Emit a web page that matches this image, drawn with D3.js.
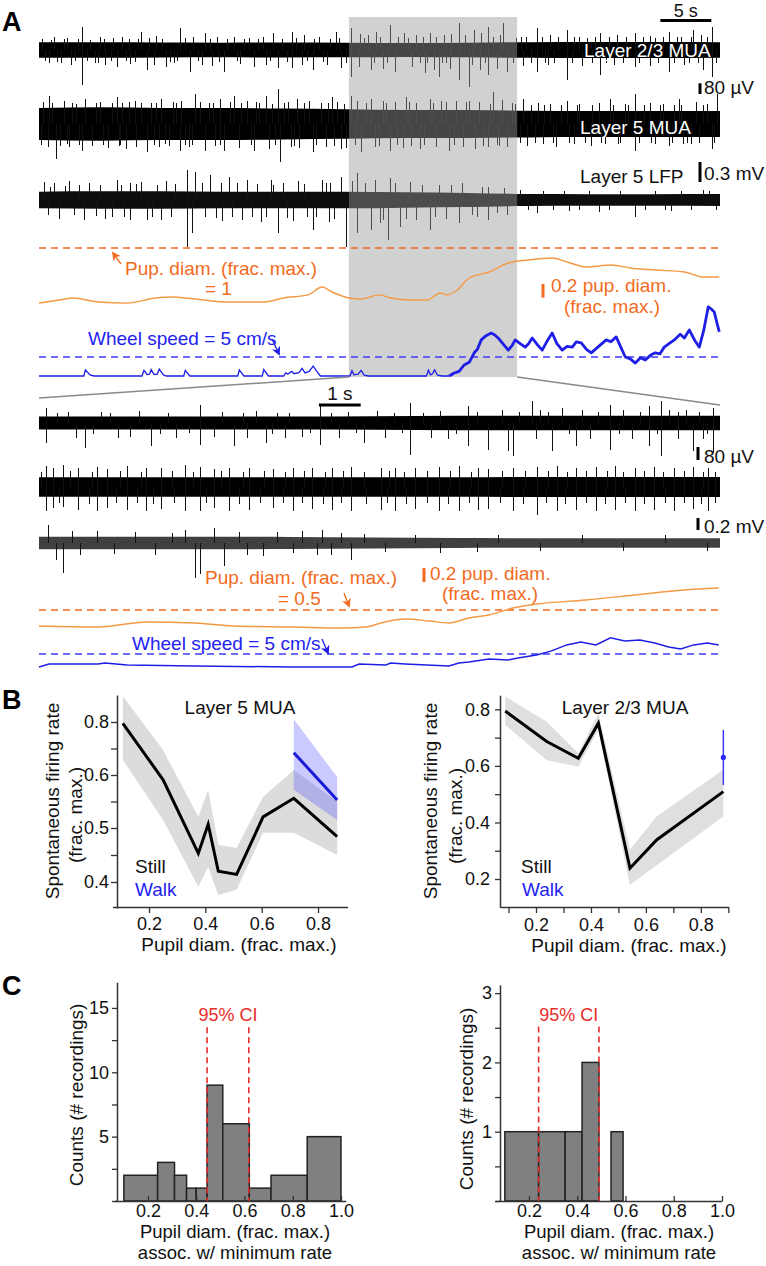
<!DOCTYPE html>
<html><head><meta charset="utf-8">
<script src="https://cdn.jsdelivr.net/npm/d3@7"></script>
<style>body{margin:0;background:#fff}svg{display:block}</style>
</head><body>
<svg id="fig" width="766" height="1266"></svg>
<script>
// ================= DATA =================
// ---- Panel A, top (whole recording, seconds) ----
const topSpanS = [0, 66.8];
const zoomWindowS = [30.4, 46.9];
const envTopT = [0, 6, 12, 18, 24, 30, 36, 42, 48, 54, 60, 66.8];
const l23TopEnv = [58, 58, 56, 55, 56, 55, 52, 55, 58, 60, 60, 58];          // µV half-width
const l5TopEnv  = [120, 125, 120, 120, 115, 110, 105, 105, 100, 98, 98, 98];
const lfpTopEnv = [125, 130, 130, 125, 125, 125, 115, 105, 90, 88, 88, 90];
const l23TopSpikes = [[1,-100],[1.5,95],[2.2,-95],[2.8,90],[3.2,-110],[4.3,175],[4.3,-262],[5.5,-100],[6.0,100],[6.5,-110],[7.7,-125],[8.2,95],[9,-105],[10.1,137],[10.6,-150],[11.3,-115],[11.5,105],[12.5,-125],[13.3,-100],[13.9,162],[14.9,-162],[15.2,95],[16,-110],[16.3,125],[17,-120],[17.5,100],[18.2,-162],[19.2,100],[19.8,-105],[20.6,90],[21.1,-125],[22,95],[22.3,-110],[23,125],[23.5,-137],[24.9,137],[24.9,-137],[25.8,-115],[26,110],[26.9,-150],[27.5,100],[28.3,-110],[29.2,137],[29.7,-137],[30.7,162],[30.7,-200],[31.4,-130],[31.5,120],[32.3,110],[32.6,-150],[33.1,137],[33.8,-140],[34.5,187],[35,-162],[35.9,125],[36.6,-130],[37,110],[37.9,-175],[38.4,125],[38.8,-150],[39.3,-200],[39.8,115],[40.4,-140],[40.5,120],[41.2,200],[41.2,-225],[42.2,-275],[42.7,150],[43.3,-150],[43.4,130],[44.1,175],[44.1,-187],[45,-140],[45.6,200],[46,-162],[47.3,100],[47.5,-120],[48.9,162],[48.9,-162],[50,-115],[50.2,110],[51.8,150],[51.8,-225],[53,100],[53.3,-120],[55.1,125],[55.1,-187],[56.5,-115],[56.7,110],[58.5,125],[58.5,-125],[60,105],[60,-120],[61.8,137],[61.8,-162],[63,100],[63.3,-110],[64.2,150],[65,110],[65.2,-150],[66.1,175],[66.1,-200],
  [0.3,80],[0.6,-85],[1.2,75],[1.8,-90],[2.5,85],[3.6,-80],[3.9,80],[4.8,-85],[5.1,75],[5.8,-95],[6.4,85],[7.1,-80],[7.3,90],[8.6,-85],[8.9,80],[9.5,-90],[9.8,85],[10.8,90],[12.1,85],[12.9,-90],[13.6,-85],[14.4,90],[15.6,-85],[16.8,85],[17.7,-90],[18.5,80],[19.5,-85],[20.2,85],[21.5,80],[22.7,-85],[23.9,85],[24.4,-90],[25.3,90],[26.3,-85],[27,85],[27.9,-90],[28.6,85],[29.5,90],[30.2,-95],[31.9,90],[32.9,-95],[33.5,95],[34.2,-100],[35.3,95],[36.2,90],[37.4,-100],[37.7,95],[38.1,-95],[39,95],[39.6,-100],[40,-95],[41.8,110],[42.5,-110],[43.8,-100],[44.6,100],[45.3,110],[46.5,-100],[46.8,90],[47.8,95],[48.3,-100],[49.4,95],[49.7,-100],[50.6,-95],[51,95],[52.3,-100],[52.5,95],[53.8,90],[54.3,-100],[54.6,95],[55.7,-100],[56,95],[57.3,-100],[57.6,95],[58.9,-95],[59.3,95],[60.5,90],[60.8,-100],[61.3,95],[62.3,-100],[62.6,95],[63.8,-95],[64,95],[64.7,-100],[65.6,95],[66.5,-95]];
const l5TopSpikes = [[1,212],[4.6,187],[7.7,200],[12,187],[15.4,225],[17.8,187],[19.2,212],[22.3,212],[23.5,262],[25.4,187],[28.8,200],[30.7,212],[32.6,187],[36,200],[38.4,187],[42.2,175],[44.6,237],[47.5,187],[51.8,175],[56.1,187],[58.5,225],[62.8,187],[66.6,225],[1.7,-262],[4.3,-200],[8.6,-187],[10.6,-212],[13.9,-200],[16.3,-200],[18.2,-200],[21.1,-200],[23.7,-287],[26.9,-212],[29.7,-187],[31.6,-212],[34.5,-200],[37.4,-187],[40.3,-200],[44.1,-175],[47.9,-162],[50.8,-175],[54.2,-162],[58.5,-200],[61.8,-162],[66.1,-187],[0.4,165],[2.5,170],[3.3,160],[6,165],[8.2,160],[9.5,175],[11,160],[13.2,165],[14,170],[16.7,160],[18.8,165],[20.5,175],[21.6,160],[24.5,165],[26.5,170],[27.7,160],[29.3,165],[31.2,170],[33.8,175],[35,165],[37,160],[39.5,170],[41,175],[43.2,165],[45.5,180],[46.4,160],[49,160],[50.2,150],[53,150],[55,155],[57.5,150],[60,160],[61.3,150],[64.5,165],[65.6,150],[0.9,-175],[3,-175],[5.2,-165],[6.8,-180],[7.9,-165],[9.6,-170],[11.8,-170],[12.8,-165],[14.8,-175],[17.3,-165],[19.7,-180],[22.6,-185],[24.8,-170],[25.6,-180],[28.2,-175],[30.2,-180],[33,-175],[35.8,-180],[36.5,-165],[39,-175],[41.6,-170],[42.8,-185],[45.2,-165],[46,-170],[49.5,-150],[52.5,-150],[55.6,-150],[56.8,-150],[60.5,-150],[63.2,-150],[64,-150],
  [0.2,-160],[1.3,160],[2.1,-165],[2.8,-150],[3.7,150],[4,-160],[5.6,155],[6.3,-155],[7.2,160],[8,-160],[8.9,165],[10.1,160],[11.3,-160],[11.5,160],[12.4,-150],[13.5,155],[14.4,-155],[15.1,-160],[15.8,165],[17.1,160],[17.8,-160],[19.9,160],[20.8,-160],[21.3,165],[22.9,150],[23.2,-160],[24.1,160],[25.1,-165],[26,155],[27.2,-160],[28.4,160],[29,-165],[30,150],[31,-160],[32.1,160],[33.4,-165],[34.1,160],[35.2,-160],[36.3,165],[37.8,-160],[38.7,160],[40,165],[40.8,-160],[41.9,165],[43.6,-165],[44.3,150],[45,-160],[46.7,150],[47.2,-140],[48.3,140],[48.7,-140],[49.6,140],[50.5,-140],[51.3,140],[52,-140],[52.8,140],[53.6,-140],[54.3,140],[55.2,-140],[56.4,140],[57,-140],[57.8,140],[58.9,-140],[59.4,140],[60.1,-140],[61,140],[62.1,-140],[62.3,140],[63,140],[63.6,-140],[64.8,-140],[65.2,140],[66.3,-140]];
const lfpTopSpikes = [[0.5,275],[7.7,300],[10.1,275],[14.6,450],[15.4,425],[16.8,375],[18.7,350],[22.8,300],[29.7,350],[31.2,400],[34.5,325],[36.4,275],[39.3,225],[44.1,200],[65.2,150],[3,280],[5,260],[12.5,280],[20.5,300],[25.5,280],[27.8,300],[33,300],[41.5,260],[1.5,250],[9,250],[19.5,260],[24,250],[28.6,260],[10.6,-300],[14.6,-700],[15.1,-500],[16.3,-250],[23.5,-500],[26.9,-450],[30.2,-700],[31.2,-500],[32.6,-450],[34.3,-600],[35.5,-400],[38.4,-450],[41.2,-350],[44.1,-300],[48.9,-200],[58.5,-250],[2,-280],[4.5,-300],[6.5,-280],[9,-300],[12,-300],[18,-320],[20,-300],[21.8,-330],[25,-320],[28.5,-330],[33.5,-350],[37,-300],[40,-280],[43,-260],[46,-220],[52,-170],[55,-180],[62,-170],
  [0.9,-220],[1.1,200],[2.6,210],[3.5,-230],[4,220],[5.6,-240],[6,220],[7.2,-250],[8.1,230],[8.4,-260],[9.6,240],[11.1,-250],[11.6,230],[13,-260],[13.4,240],[16,260],[17.4,-270],[17.9,250],[19,-260],[20.9,-250],[21.4,240],[22.3,-260],[23,220],[24.4,-270],[26,240],[26.3,-260],[27.2,-250],[28.2,250],[29,-280],[30.8,280],[32,250],[33.8,-300],[35,260],[36,-280],[37.6,230],[38.9,-260],[40.5,220],[42.5,-230],[43.5,200],[45,-200],[45.7,180],[47.2,150],[48,-150],[49.5,140],[50.5,-150],[51.5,140],[53,-150],[54,140],[56,-150],[57,140],[59.5,-150],[60.5,140],[61.5,-150],[63,140],[64,-150],[65.8,140],[66.5,-150]];
const pupilTop = [[0,0.19],[1.96,0.235],[3.34,0.265],[5.79,0.206],[8.64,0.19],[11.48,0.265],[12.95,0.28],[15.31,0.25],[18.25,0.206],[22.08,0.206],[23.95,0.265],[26.4,0.31],[27.77,0.426],[28.75,0.353],[30.42,0.265],[31.6,0.25],[33.37,0.31],[34.54,0.265],[36.41,0.235],[38.08,0.235],[39.35,0.338],[40.04,0.31],[41.02,0.382],[42.2,0.559],[44.16,0.647],[46.03,0.78],[48,0.824],[50.34,0.853],[51.8,0.794],[53.68,0.72],[56.13,0.75],[58,0.706],[60.45,0.676],[63.3,0.647],[65.16,0.574],[66.73,0.574]];
const wheelTop = [[0,0],[4.4,0],[4.55,1.6],[5.0,0.3],[5.4,0],[10.1,0],[10.3,1.5],[10.6,0.4],[10.85,0.5],[11.0,1.7],[11.3,0.4],[11.6,0.5],[11.8,1.8],[12.2,0.3],[12.5,0],[14.2,0],[14.35,1.5],[14.8,0],[19.5,0],[19.65,1.6],[20.1,0],[21.9,0],[22.05,1.7],[22.5,0],[24.0,0],[24.2,0.8],[24.4,0.5],[24.8,1.2],[25.0,0.6],[25.5,0.9],[25.8,2.0],[26.1,0.8],[26.5,1.2],[26.9,2.6],[27.2,1.4],[27.6,0],[30.5,0],[30.7,1.4],[30.9,0.3],[31.3,0.5],[31.6,1.5],[31.9,0.2],[32.3,0],[38.0,0],[38.2,1.5],[38.4,0.3],[38.6,0.6],[38.8,1.6],[39.1,0.2],[39.5,0],[40.24,0],[40.73,0.8],[41.2,1.2],[41.71,2.9],[42.2,3.6],[42.69,6.1],[43.0,7.0],[43.38,9.5],[43.8,10.5],[44.36,11.3],[44.7,10.8],[45.04,10.0],[45.5,8.5],[46.03,6.8],[46.4,8.0],[46.71,9.5],[47.2,8.5],[47.69,7.6],[48.0,8.4],[48.38,10.0],[48.9,8.2],[49.36,6.8],[49.8,9.0],[50.34,11.3],[50.8,8.5],[51.32,6.8],[51.8,7.8],[52.31,7.6],[52.7,9.0],[53.19,8.7],[53.7,7.0],[54.17,6.1],[54.9,7.8],[55.64,9.5],[56.1,9.0],[56.62,10.3],[57.0,8.0],[57.51,5.0],[58.0,4.5],[58.49,3.4],[59.0,4.8],[59.47,4.2],[60.0,5.5],[60.45,6.1],[60.9,5.8],[61.33,7.6],[61.8,8.5],[62.32,9.5],[62.9,11.0],[63.3,10.0],[63.79,12.1],[64.3,9.5],[64.77,7.6],[65.2,12.0],[65.65,18.2],[66.0,17.5],[66.24,16.8],[66.5,14.0],[66.73,11.6]];
const walkOnsetTopS = 40.24;

// ---- Panel A, bottom (zoomed window, seconds) ----
const botSpanS = [0, 16.3];
const envBotT = [0, 2, 4, 6, 8, 10, 12, 14, 16.3];
const l23BotEnv = [40, 40, 40, 40, 42, 44, 45, 45, 45];
const l5BotEnv  = [60, 60, 60, 60, 60, 60, 62, 62, 62];
const lfpBotEnv = [105, 105, 105, 100, 90, 85, 80, 80, 80];
const l23BotSpikes = [[0.18,92],[0.18,-123],[0.7,70],[0.9,-90],[1.11,-154],[1.5,70],[1.9,-90],[2.2,-85],[2.4,72],[2.69,-143],[3.3,-90],[3.86,113],[3.86,-133],[4.2,-88],[4.4,70],[4.68,-143],[5.0,-90],[5.2,72],[5.44,-123],[5.9,-90],[6.3,-85],[6.73,102],[6.73,-133],[7.2,-90],[7.4,70],[7.78,-123],[8.1,72],[8.3,-95],[8.89,123],[8.89,-195],[9.4,-95],[9.6,75],[9.8,-100],[10.29,102],[10.29,-143],[10.76,-164],[11.1,80],[11.23,-174],[11.35,-205],[11.81,133],[11.9,-100],[12.0,80],[12.28,-174],[12.52,92],[12.87,-143],[13.0,80],[13.2,-100],[13.69,113],[13.69,-164],[14.0,80],[14.2,-100],[14.62,102],[14.62,-143],[14.91,133],[14.91,-205],[15.1,80],[15.3,-100],[15.5,78],[15.67,-174],[15.9,-100],[16.14,92],[16.14,-185],
  [0.45,60],[1.3,-65],[1.7,60],[2.9,-65],[3.1,62],[3.6,-62],[4.9,60],[5.6,-65],[5.7,62],[6.0,60],[6.5,-62],[7.0,60],[7.6,-62],[8.5,60],[8.7,-62],[9.2,62],[10.0,-65],[10.5,65],[11.5,65],[12.2,70],[12.7,-70],[13.4,70],[13.9,-70],[14.4,70],[14.8,-70],[15.3,70],[15.8,70],[16.0,-70]];
const l5BotSpikes = [[0.18,130],[0.18,-150],[0.35,115],[0.35,-130],[0.59,135],[0.59,-125],[0.94,120],[0.94,-140],[1.41,125],[1.41,-150],[1.64,110],[1.64,-130],[2.11,130],[2.11,-140],[2.58,120],[2.58,-150],[2.93,115],[2.93,-135],[3.51,135],[3.51,-145],[3.86,125],[3.86,-150],[4.21,110],[4.21,-130],[4.56,120],[4.56,-145],[5.03,115],[5.03,-140],[5.62,110],[5.62,-130],[6.08,120],[6.08,-150],[6.55,115],[6.55,-135],[7.02,120],[7.02,-140],[7.49,125],[7.49,-150],[8.19,120],[8.19,-140],[8.54,115],[8.54,-150],[9.01,120],[9.01,-135],[9.59,125],[9.59,-145],[10.06,130],[10.06,-150],[10.53,120],[10.53,-140],[10.76,110],[10.76,-135],[11.35,120],[11.35,-150],[11.93,125],[11.93,-174],[12.4,130],[12.4,-145],[12.87,120],[12.87,-140],[13.34,125],[13.34,-150],[13.8,130],[13.8,-140],[14.27,120],[14.27,-145],[14.74,125],[14.74,-140],[15.21,120],[15.21,-150],[15.67,125],[15.67,-135],[16.03,120],[16.03,-145],[0.05,95],[0.48,-100],[0.75,100],[1.2,-105],[1.28,95],[1.85,-100],[1.95,100],[2.35,-100],[2.45,95],[2.75,-105],[3.2,100],[3.25,-100],[3.7,95],[4.0,-100],[4.38,100],[4.8,-105],[4.9,95],[5.3,-100],[5.4,100],[5.85,-100],[5.9,95],[6.3,-100],[6.35,100],[6.8,-105],[6.85,95],[7.25,-100],[7.3,100],[7.8,95],[7.85,-105],[8.35,-100],[8.4,100],[8.8,-105],[8.75,95],[9.3,-100],[9.3,100],[9.8,-105],[9.85,100],[10.3,-100],[10.35,95],[11.05,-100],[11.1,100],[11.6,-105],[11.65,100],[12.15,-100],[12.2,100],[12.6,-105],[12.65,95],[13.1,-100],[13.1,100],[13.55,-105],[13.6,100],[14.05,-100],[14.0,95],[14.5,-105],[14.5,100],[15.0,-100],[14.95,95],[15.45,-100],[15.45,100],[15.85,-105],[15.9,95],[16.2,-100],[16.2,95]];
const lfpBotSpikes = [[0.23,306],[0.41,-280],[0.59,-500],[0.8,200],[1.0,-200],[1.4,200],[1.8,-180],[2.3,180],[2.8,-200],[3.2,170],[3.51,222],[3.74,-583],[3.86,-520],[4.21,250],[4.45,-390],[4.8,190],[5.0,-200],[5.38,-222],[5.7,180],[6.08,-170],[6.3,200],[6.67,-200],[6.78,222],[7.0,-200],[7.25,170],[7.49,-278],[7.8,150],[8.3,-150],[9.0,140],[9.6,-160],[10.5,-150],[11.0,130],[12.0,-140],[13.0,130],[14.0,-130],[15.0,130],[16.0,-130]];
const pupilBot = [[0,0.271],[1.41,0.257],[2.58,0.329],[3.73,0.314],[4.67,0.271],[6.08,0.257],[7.25,0.243],[7.82,0.257],[8.18,0.314],[8.76,0.371],[9.35,0.343],[9.81,0.314],[10.29,0.386],[10.77,0.429],[11.34,0.529],[11.91,0.586],[13.09,0.643],[14.26,0.714],[15.43,0.786],[16.27,0.814]];
const wheelBot = [[0,0],[0.24,1.15],[1.41,1.15],[1.58,1.5],[2.11,0.77],[3.73,0.38],[6.08,0],[7.49,0],[7.66,1.15],[8.3,0.77],[8.42,1.5],[8.76,1.15],[9.81,0.38],[10.05,1.5],[10.29,1.9],[10.77,3.1],[11.22,2.7],[11.46,3.5],[11.91,4.6],[12.27,6.2],[12.63,8.5],[12.97,9.6],[13.33,8.5],[13.68,11.2],[14.02,10],[14.38,10.4],[14.74,9.2],[15.07,7.7],[15.36,6.9],[15.67,8.5],[16,9.2],[16.27,8.5]];

// ---- Panel B ----
const bLeftPupil   = [0.107, 0.25, 0.375, 0.41, 0.446, 0.511, 0.605, 0.714, 0.868];
const bLeftStill   = [0.795, 0.591, 0.453, 0.507, 0.42, 0.414, 0.521, 0.556, 0.484];
const bLeftStillHi = [0.895, 0.694, 0.521, 0.572, 0.469, 0.463, 0.559, 0.619, 0.55];
const bLeftStillLo = [0.657, 0.515, 0.391, 0.428, 0.375, 0.385, 0.491, 0.491, 0.45];
const bLeftWalkPupil = [0.714, 0.868];
const bLeftWalk   = [0.684, 0.553];
const bLeftWalkHi = [0.81, 0.596];
const bLeftWalkLo = [0.572, 0.515];
const bLeftYTicks = [0.4, 0.45, 0.5, 0.55, 0.6, 0.7, 0.8];
const bLeftYLabels = [0.4, 0.5, 0.6, 0.8];
const bRightPupil   = [0.088, 0.239, 0.354, 0.427, 0.542, 0.639, 0.882];
const bRightStill   = [0.794, 0.686, 0.627, 0.751, 0.238, 0.338, 0.509];
const bRightStillHi = [0.845, 0.756, 0.645, 0.786, 0.304, 0.421, 0.586];
const bRightStillLo = [0.745, 0.62, 0.597, 0.727, 0.179, 0.249, 0.421];
const bRightWalkPupil = [0.882];
const bRightWalk   = [0.63];
const bRightWalkHi = [0.727];
const bRightWalkLo = [0.532];

// ---- Panel C ----
const cLeftBinStart = [0.10, 0.24, 0.31, 0.36, 0.40, 0.445, 0.51, 0.62, 0.71, 0.86];
const cLeftBinEnd   = [0.24, 0.31, 0.36, 0.40, 0.445, 0.51, 0.62, 0.71, 0.86, 1.00];
const cLeftCounts   = [2, 3, 2, 1, 1, 9, 6, 1, 2, 5];
const cLeftCI = [0.445, 0.618];
const cRightBinStart = [0.10, 0.24, 0.35, 0.42, 0.54];
const cRightBinEnd   = [0.24, 0.35, 0.42, 0.49, 0.59];
const cRightCounts   = [1, 1, 1, 2, 1];
const cRightCI = [0.24, 0.49];
const cXTicks = [0.2, 0.4, 0.6, 0.8, 1.0];

// ================= DRAWING =================
const FONT = "'Liberation Sans', Arial, Helvetica, sans-serif";
const ORANGE_TXT = "#f26b22", ORANGE_LN = "#f49a45", ORANGE_DASH = "#f26a1f";
const BLUE_TXT = "#2323f0", BLUE_LN = "#1e1ee6", BLUE_DASH = "#3c3cf5";
const RED = "#ea2b2b";

const svg = d3.select("#fig").attr("font-family", FONT);
svg.append("rect").attr("width", 766).attr("height", 1266).attr("fill", "#fff");

const defs = svg.append("defs");
function marker(id, col) {
  defs.append("marker").attr("id", id).attr("viewBox", "0 0 10 10")
    .attr("refX", 8).attr("refY", 5).attr("markerWidth", 9).attr("markerHeight", 9)
    .attr("markerUnits", "userSpaceOnUse").attr("orient", "auto")
    .append("path").attr("d", "M0,0 L10,5 L0,10 L3,5 z").attr("fill", col);
}
marker("arO", ORANGE_DASH); marker("arB", BLUE_LN);

function txt(g, x, y, s, o = {}) {
  return g.append("text").attr("x", x).attr("y", y).text(s)
    .attr("font-size", o.size || 19).attr("fill", o.fill || "#111")
    .attr("text-anchor", o.anchor || "start")
    .attr("font-weight", o.weight || "normal");
}
function addTrace(g, xs, cy, barUv, barPx, envT, env, spikes, op) {
  const y = d3.scaleLinear().domain([0, barUv]).range([cy, cy - barPx]);
  g.append("path").datum(envT.map((t, i) => ({ t, e: env[i] })))
    .attr("d", d3.area().x(d => xs(d.t)).y0(d => y(-d.e)).y1(d => y(d.e)).curve(d3.curveMonotoneX))
    .attr("fill", "#000").attr("fill-opacity", op);
  g.append("g").attr("shape-rendering", "crispEdges").selectAll("line").data(spikes).join("line")
    .attr("x1", d => xs(d[0])).attr("x2", d => xs(d[0]))
    .attr("y1", y(0)).attr("y2", d => y(d[1]))
    .attr("stroke", "#111").attr("stroke-width", 1);
  return y;
}
function vbar(g, x, y0, len, col) {
  g.append("line").attr("x1", x).attr("x2", x).attr("y1", y0).attr("y2", y0 + len)
    .attr("stroke", col || "#000").attr("stroke-width", 3);
}
function hdash(g, x0, x1, y, col) {
  g.append("line").attr("x1", x0).attr("x2", x1).attr("y1", y).attr("y2", y)
    .attr("stroke", col).attr("stroke-width", 1.6).attr("stroke-dasharray", "7,5");
}

// ---------- Panel A ----------
const A = svg.append("g");
const xTop = d3.scaleLinear().domain(topSpanS).range([39, 720]);
const xBot = d3.scaleLinear().domain(botSpanS).range([39, 720]);

const yL23T = addTrace(A, xTop, 50, 80, 10.7, envTopT, l23TopEnv, l23TopSpikes, 1);
const yL5T  = addTrace(A, xTop, 124, 80, 10.7, envTopT, l5TopEnv, l5TopSpikes, 1);
const yLfpT = addTrace(A, xTop, 200, 300, 20, envTopT, lfpTopEnv, lfpTopSpikes, 0.95);

// zoom box
A.append("rect").attr("x", xTop(zoomWindowS[0])).attr("y", 17)
  .attr("width", xTop(zoomWindowS[1]) - xTop(zoomWindowS[0])).attr("height", 360)
  .attr("fill", "#999").attr("fill-opacity", 0.45);

// labels on traces
txt(A, 584, 57, "Layer 2/3 MUA", { fill: "#fff" });
txt(A, 580, 134, "Layer 5 MUA", { fill: "#fff" });
txt(A, 580, 183, "Layer 5 LFP");
// scale bars top
const sb5 = [60.95, 65.95];
A.append("line").attr("x1", xTop(sb5[0])).attr("x2", xTop(sb5[1])).attr("y1", 20.5).attr("y2", 20.5)
  .attr("stroke", "#000").attr("stroke-width", 3);
txt(A, (xTop(sb5[0]) + xTop(sb5[1])) / 2, 17, "5 s", { anchor: "middle", size: 18 });
vbar(A, 700, 83.3, yL23T(0) - yL23T(80));
txt(A, 704, 94, "80 µV");
vbar(A, 700, 162, yLfpT(0) - yLfpT(300));
txt(A, 704, 180, "0.3 mV");

// pupil top
const yPupT = d3.scaleLinear().domain([0, 1]).range([316, 248]);
hdash(A, 39, 720, yPupT(1), ORANGE_DASH);
A.append("path").datum(pupilTop)
  .attr("d", d3.line().x(d => xTop(d[0])).y(d => yPupT(d[1])).curve(d3.curveMonotoneX))
  .attr("fill", "none").attr("stroke", ORANGE_LN).attr("stroke-width", 1.4);
A.append("line").attr("x1", 121).attr("y1", 264).attr("x2", 113).attr("y2", 253)
  .attr("stroke", ORANGE_DASH).attr("stroke-width", 1.3).attr("marker-end", "url(#arO)");
txt(A, 125, 275, "Pup. diam. (frac. max.)", { fill: ORANGE_TXT });
txt(A, 205, 295, "= 1", { fill: ORANGE_TXT });
vbar(A, 543, 284, yPupT(0) - yPupT(0.2), ORANGE_DASH);
txt(A, 551, 292, "0.2 pup. diam.", { fill: ORANGE_TXT });
txt(A, 564, 313, "(frac. max.)", { fill: ORANGE_TXT });

// wheel top
const yWhT = d3.scaleLinear().domain([0, 5]).range([376, 357]);
hdash(A, 39, 720, yWhT(5), BLUE_DASH);
const wl = d3.line().x(d => xTop(d[0])).y(d => yWhT(d[1]));
A.append("path").datum(wheelTop.filter(d => d[0] <= walkOnsetTopS)).attr("d", wl)
  .attr("fill", "none").attr("stroke", BLUE_LN).attr("stroke-width", 1.3);
A.append("path").datum(wheelTop.filter(d => d[0] >= walkOnsetTopS)).attr("d", wl)
  .attr("fill", "none").attr("stroke", BLUE_LN).attr("stroke-width", 2.8).attr("stroke-linejoin", "round");
txt(A, 88, 345, "Wheel speed = 5 cm/s", { fill: BLUE_TXT });
A.append("line").attr("x1", 272).attr("y1", 339).attr("x2", 279).attr("y2", 354)
  .attr("stroke", BLUE_LN).attr("stroke-width", 1.3).attr("marker-end", "url(#arB)");

// connector lines
A.append("line").attr("x1", xTop(zoomWindowS[0])).attr("y1", 377).attr("x2", xBot(botSpanS[0])).attr("y2", 398)
  .attr("stroke", "#8a8a8a").attr("stroke-width", 1.5);
A.append("line").attr("x1", xTop(zoomWindowS[1])).attr("y1", 377).attr("x2", xBot(botSpanS[1])).attr("y2", 405)
  .attr("stroke", "#8a8a8a").attr("stroke-width", 1.5);

// bottom traces
const yL23B = addTrace(A, xBot, 423, 80, 13, envBotT, l23BotEnv, l23BotSpikes, 1);
const yL5B  = addTrace(A, xBot, 487, 80, 13, envBotT, l5BotEnv, l5BotSpikes, 1);
const yLfpB = addTrace(A, xBot, 543, 200, 12, envBotT, lfpBotEnv, lfpBotSpikes, 0.75);
const sb1 = [6.7, 7.7];
A.append("line").attr("x1", xBot(sb1[0])).attr("x2", xBot(sb1[1])).attr("y1", 405).attr("y2", 405)
  .attr("stroke", "#000").attr("stroke-width", 3);
txt(A, (xBot(sb1[0]) + xBot(sb1[1])) / 2, 400, "1 s", { anchor: "middle" });
vbar(A, 698, 447, yL23B(0) - yL23B(80));
txt(A, 704, 463, "80 µV");
vbar(A, 698, 518, yLfpB(0) - yLfpB(200));
txt(A, 704, 533, "0.2 mV");

// pupil bottom
const yPupB = d3.scaleLinear().domain([0, 1]).range([645, 575]);
hdash(A, 39, 720, yPupB(0.5), ORANGE_DASH);
A.append("path").datum(pupilBot)
  .attr("d", d3.line().x(d => xBot(d[0])).y(d => yPupB(d[1])).curve(d3.curveMonotoneX))
  .attr("fill", "none").attr("stroke", ORANGE_LN).attr("stroke-width", 1.4);
txt(A, 205, 584, "Pup. diam. (frac. max.)", { fill: ORANGE_TXT });
txt(A, 278, 605, "= 0.5", { fill: ORANGE_TXT });
A.append("line").attr("x1", 344).attr("y1", 593).attr("x2", 349).attr("y2", 606)
  .attr("stroke", ORANGE_DASH).attr("stroke-width", 1.3).attr("marker-end", "url(#arO)");
vbar(A, 424, 568, yPupB(0) - yPupB(0.2), ORANGE_DASH);
txt(A, 430, 580, "0.2 pup. diam.", { fill: ORANGE_TXT });
txt(A, 442, 600, "(frac. max.)", { fill: ORANGE_TXT });

// wheel bottom
const yWhB = d3.scaleLinear().domain([0, 5]).range([667, 654]);
hdash(A, 39, 720, yWhB(5), BLUE_DASH);
A.append("path").datum(wheelBot)
  .attr("d", d3.line().x(d => xBot(d[0])).y(d => yWhB(d[1])))
  .attr("fill", "none").attr("stroke", BLUE_LN).attr("stroke-width", 1.5);
txt(A, 132, 650, "Wheel speed = 5 cm/s", { fill: BLUE_TXT });
A.append("line").attr("x1", 322).attr("y1", 639).attr("x2", 328).attr("y2", 653)
  .attr("stroke", BLUE_LN).attr("stroke-width", 1.3).attr("marker-end", "url(#arB)");

// panel letters
txt(svg, 2, 31, "A", { size: 27, weight: "bold", fill: "#000" });
txt(svg, 2, 709, "B", { size: 27, weight: "bold", fill: "#000" });
txt(svg, 2, 995, "C", { size: 27, weight: "bold", fill: "#000" });

// ---------- axes helpers ----------
function styleAxis(g) {
  g.attr("font-family", FONT).attr("font-size", 18);
  g.select(".domain").attr("stroke", "#333").attr("stroke-width", 1.5);
  g.selectAll(".tick line").attr("stroke", "#333").attr("stroke-width", 1.3);
  g.selectAll(".tick text").attr("fill", "#111");
}
function rotLabel(g, x, y, s) {
  g.append("text").attr("transform", `translate(${x},${y}) rotate(-90)`)
    .attr("text-anchor", "middle").attr("font-size", 19).attr("fill", "#111").text(s);
}
const fmt1 = d3.format(".1f");
const isLab = (d, arr) => arr.some(v => Math.abs(v - d) < 1e-6);

// ---------- Panel B left ----------
const BL = svg.append("g");
const xBL = d3.scaleLinear().domain([0.07, 0.905]).range([112.4, 347.6]);
const yBL = d3.scaleLinear().domain([0.35, 0.4, 0.5, 0.6, 0.8, 0.9]).range([908, 882, 828, 775, 722, 695]);
const idxL = bLeftPupil.map((_, i) => i);
BL.append("path").datum(idxL)
  .attr("d", d3.area().x(i => xBL(bLeftPupil[i])).y0(i => yBL(bLeftStillLo[i])).y1(i => yBL(bLeftStillHi[i])))
  .attr("fill", "#dcdcdc");
const idxLW = bLeftWalkPupil.map((_, i) => i);
BL.append("path").datum(idxLW)
  .attr("d", d3.area().x(i => xBL(bLeftWalkPupil[i])).y0(i => yBL(bLeftWalkLo[i])).y1(i => yBL(bLeftWalkHi[i])))
  .attr("fill", "#5050ff").attr("fill-opacity", 0.3);
BL.append("path").datum(idxL)
  .attr("d", d3.line().x(i => xBL(bLeftPupil[i])).y(i => yBL(bLeftStill[i])))
  .attr("fill", "none").attr("stroke", "#000").attr("stroke-width", 3);
BL.append("path").datum(idxLW)
  .attr("d", d3.line().x(i => xBL(bLeftWalkPupil[i])).y(i => yBL(bLeftWalk[i])))
  .attr("fill", "none").attr("stroke", "#1a1ad8").attr("stroke-width", 3);
const gBLy = BL.append("g").attr("transform", "translate(117,0)")
  .call(d3.axisLeft(yBL).tickValues(bLeftYTicks).tickSize(6).tickSizeOuter(0).tickPadding(2)
    .tickFormat(d => isLab(d, bLeftYLabels) ? fmt1(d) : ""));
styleAxis(gBLy);
const gBLx = BL.append("g").attr("transform", "translate(0,907)")
  .call(d3.axisBottom(xBL).tickValues([0.2, 0.4, 0.6, 0.8]).tickSize(6).tickSizeOuter(0).tickPadding(4).tickFormat(fmt1));
styleAxis(gBLx);
txt(BL, 240, 714, "Layer 5 MUA", { anchor: "middle" });
txt(BL, 135, 873, "Still");
txt(BL, 135, 896, "Walk", { fill: BLUE_TXT });
rotLabel(BL, 58.5, 801, "Spontaneous firing rate");
rotLabel(BL, 82, 815, "(frac. max.)");
txt(BL, 239, 951, "Pupil diam. (frac. max.)", { anchor: "middle" });

// ---------- Panel B right ----------
const BR = svg.append("g");
const xBR = d3.scaleLinear().domain([0.07, 0.9]).range([500.3, 728.3]);
const yBR = d3.scaleLinear().domain([0.1, 0.85]).range([907.3, 695.2]);
const idxR = bRightPupil.map((_, i) => i);
BR.append("path").datum(idxR)
  .attr("d", d3.area().x(i => xBR(bRightPupil[i])).y0(i => yBR(bRightStillLo[i])).y1(i => yBR(bRightStillHi[i])))
  .attr("fill", "#dfdfdf");
BR.append("path").datum(idxR)
  .attr("d", d3.line().x(i => xBR(bRightPupil[i])).y(i => yBR(bRightStill[i])))
  .attr("fill", "none").attr("stroke", "#000").attr("stroke-width", 3);
BR.selectAll(".eb").data(bRightWalkPupil).join("line").attr("class", "eb")
  .attr("x1", d => xBR(d)).attr("x2", d => xBR(d))
  .attr("y1", (d, i) => yBR(bRightWalkLo[i])).attr("y2", (d, i) => yBR(bRightWalkHi[i]))
  .attr("stroke", "#3b3bff").attr("stroke-width", 1.5);
BR.selectAll(".ep").data(bRightWalkPupil).join("circle").attr("class", "ep")
  .attr("cx", d => xBR(d)).attr("cy", (d, i) => yBR(bRightWalk[i])).attr("r", 2.6).attr("fill", "#2a2aff");
const gBRy = BR.append("g").attr("transform", "translate(500,0)")
  .call(d3.axisLeft(yBR).tickValues([0.2, 0.3, 0.4, 0.5, 0.6, 0.7, 0.8]).tickSize(5).tickSizeOuter(0).tickPadding(5)
    .tickFormat(d => isLab(d, [0.2, 0.4, 0.6, 0.8]) ? fmt1(d) : ""));
styleAxis(gBRy);
const gBRx = BR.append("g").attr("transform", "translate(0,907)")
  .call(d3.axisBottom(xBR).tickValues([0.1, 0.2, 0.3, 0.4, 0.5, 0.6, 0.7, 0.8, 0.9]).tickSize(6).tickSizeOuter(0).tickPadding(5)
    .tickFormat(d => isLab(d, [0.2, 0.4, 0.6, 0.8]) ? fmt1(d) : ""));
styleAxis(gBRx);
txt(BR, 625, 714, "Layer 2/3 MUA", { anchor: "middle" });
txt(BR, 521, 873, "Still");
txt(BR, 522, 896, "Walk", { fill: BLUE_TXT });
rotLabel(BR, 437, 801, "Spontaneous firing rate");
rotLabel(BR, 462, 816, "(frac. max.)");
txt(BR, 629, 952, "Pupil diam. (frac. max.)", { anchor: "middle" });

// ---------- Panel C ----------
function histPanel(g, xs, ys, x0s, x1s, counts, ci, ciTop, yTicks, yLabs, yAxisX, ylabX, ylabY, xlabX) {
  g.selectAll(".bar").data(counts).join("rect").attr("class", "bar")
    .attr("x", (d, i) => xs(x0s[i])).attr("width", (d, i) => xs(x1s[i]) - xs(x0s[i]))
    .attr("y", d => ys(d)).attr("height", d => ys(0) - ys(d))
    .attr("fill", "#808080").attr("stroke", "#222").attr("stroke-width", 1.5);
  g.selectAll(".ci").data(ci).join("line").attr("class", "ci")
    .attr("x1", d => xs(d)).attr("x2", d => xs(d)).attr("y1", ys(ciTop)).attr("y2", ys(0))
    .attr("stroke", RED).attr("stroke-width", 1.6).attr("stroke-dasharray", "6,4");
  txt(g, (xs(ci[0]) + xs(ci[1])) / 2, 1021, "95% CI", { anchor: "middle", fill: RED, size: 18 });
  const gy = g.append("g").attr("transform", `translate(${yAxisX},0)`)
    .call(d3.axisLeft(ys).tickValues(yTicks).tickSize(5).tickSizeOuter(0).tickPadding(3)
      .tickFormat(d => isLab(d, yLabs) ? String(d) : ""));
  styleAxis(gy);
  const gx = g.append("g").attr("transform", `translate(0,${ys(0)})`)
    .call(d3.axisBottom(xs).tickValues(cXTicks).tickSize(-5).tickSizeOuter(0).tickPadding(3).tickFormat(fmt1));
  styleAxis(gx);
  rotLabel(g, ylabX, ylabY, "Counts (# recordings)");
  txt(g, xlabX, 1238, "Pupil diam. (frac. max.)", { anchor: "middle", size: 18.5 });
  txt(g, xlabX, 1259, "assoc. w/ minimum rate", { anchor: "middle", size: 18.5 });
}
const CL = svg.append("g");
const xCL = d3.scaleLinear().domain([0.06, 1.02]).range([114.2, 345.8]);
const yCL = d3.scaleLinear().domain([0, 17]).range([1201, 982.2]);
histPanel(CL, xCL, yCL, cLeftBinStart, cLeftBinEnd, cLeftCounts, cLeftCI, 13.5,
  [0, 2.5, 5, 7.5, 10, 12.5, 15], [5, 10, 15], 117, 83, 1095, 235);
const CR = svg.append("g");
const xCR = d3.scaleLinear().domain([0.06, 1.0]).range([495.2, 722]);
const yCR = d3.scaleLinear().domain([0, 3.12]).range([1201, 984.8]);
histPanel(CR, xCR, yCR, cRightBinStart, cRightBinEnd, cRightCounts, cRightCI, 2.52,
  [0, 0.5, 1, 1.5, 2, 2.5, 3], [1, 2, 3], 500, 473, 1099, 619);
</script>
</body></html>
